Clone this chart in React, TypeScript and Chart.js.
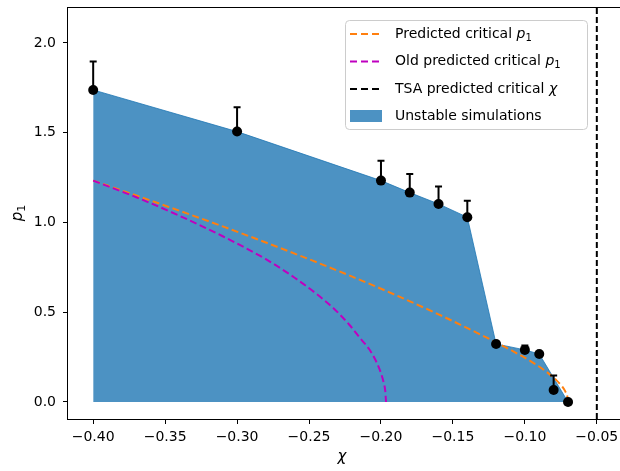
import React, { useEffect, useRef } from 'react';
import { Chart, registerables } from 'chart.js';

Chart.register(...registerables);

// Simulation results (mean critical p1 with upper error)
const simChi = [-0.40, -0.30, -0.20, -0.18, -0.16, -0.14, -0.12, -0.10, -0.09, -0.08, -0.07];
const simP1 = [1.738, 1.506, 1.233, 1.166, 1.103, 1.029, 0.323, 0.290, 0.267, 0.067, 0.0];
const simP1Upper = [1.896, 1.642, 1.344, 1.270, 1.200, 1.121, 0.335, 0.315, 0.285, 0.147, 0.0];

// Unstable region boundary
const fillChi = [-0.40, -0.30, -0.20, -0.18, -0.16, -0.14, -0.12, -0.10, -0.09, -0.07];
const fillP1 = [1.738, 1.506, 1.233, 1.166, 1.103, 1.029, 0.323, 0.290, 0.267, 0.0];

// Predicted critical p1
const predChi = [-0.40, -0.37, -0.34, -0.31, -0.28, -0.25, -0.22, -0.19, -0.16, -0.13, -0.11, -0.095, -0.085, -0.078, -0.074, -0.072, -0.0705, -0.070];
const predP1 = [1.233, 1.150, 1.065, 0.978, 0.888, 0.795, 0.698, 0.596, 0.488, 0.372, 0.290, 0.222, 0.168, 0.120, 0.085, 0.060, 0.030, 0.0];

// Old predicted critical p1
const oldChi = [-0.40, -0.37, -0.34, -0.31, -0.28, -0.26, -0.245, -0.233, -0.222, -0.214, -0.208, -0.203, -0.200, -0.198, -0.197, -0.1965];
const oldP1 = [1.233, 1.14, 1.037, 0.923, 0.795, 0.692, 0.603, 0.522, 0.43, 0.35, 0.292, 0.22, 0.16, 0.104, 0.06, 0.0];

// TSA predicted critical chi
const tsaChi = -0.05;

const xTicks = [-0.40, -0.35, -0.30, -0.25, -0.20, -0.15, -0.10, -0.05];
const yTicks = [0.0, 0.5, 1.0, 1.5, 2.0];
const xLimits = [-0.4175, -0.0325];
const yLimits = [-0.095, 2.2];

const legendLabels = ['Predicted critical ', 'Old predicted critical ', 'TSA predicted critical ', 'Unstable simulations'];

const FONT = '"DejaVu Sans", sans-serif';
const BLUE = 'rgba(31,119,180,0.8)';
const ORANGE = '#ff7f0e';
const MAGENTA = '#bf00bf';

export default function App() {
  const ref = useRef<HTMLCanvasElement | null>(null);

  useEffect(() => {
    const canvas = ref.current;
    if (!canvas) return;

    const overlay = {
      id: 'overlay',
      afterDatasetsDraw(chart: any) {
        const ctx = chart.ctx;
        const xs = chart.scales.x;
        const ys = chart.scales.y;
        ctx.save();
        ctx.strokeStyle = '#000';
        ctx.lineWidth = 2;
        for (let i = 0; i < simChi.length; i++) {
          if (simP1Upper[i] - simP1[i] < 0.02) continue;
          const px = xs.getPixelForValue(simChi[i]);
          const py0 = ys.getPixelForValue(simP1[i]);
          const py1 = ys.getPixelForValue(simP1Upper[i]);
          ctx.beginPath();
          ctx.moveTo(px, py0);
          ctx.lineTo(px, py1);
          ctx.moveTo(px - 3.5, py1);
          ctx.lineTo(px + 3.5, py1);
          ctx.stroke();
        }
        ctx.restore();
      },
      afterDraw(chart: any) {
        const ctx = chart.ctx;
        const area = chart.chartArea;
        ctx.save();
        ctx.strokeStyle = '#000';
        ctx.lineWidth = 1;
        ctx.strokeRect(Math.round(area.left) - 0.5, Math.round(area.top) + 0.5, area.right - area.left, area.bottom - area.top);

        ctx.fillStyle = '#000';
        ctx.font = 'italic 15px ' + FONT;
        ctx.textAlign = 'center';
        ctx.textBaseline = 'middle';
        ctx.fillText('\u03c7', 342, area.bottom + 38);

        ctx.save();
        ctx.translate(18, (area.top + area.bottom) / 2);
        ctx.rotate(-Math.PI / 2);
        ctx.font = 'italic 15px ' + FONT;
        ctx.textAlign = 'left';
        const pw = ctx.measureText('p').width;
        ctx.font = '11px ' + FONT;
        const sw = ctx.measureText('1').width;
        const tot = pw + sw;
        ctx.font = 'italic 15px ' + FONT;
        ctx.fillText('p', -tot / 2, 0);
        ctx.font = '11px ' + FONT;
        ctx.fillText('1', -tot / 2 + pw, 4);
        ctx.restore();

        const bx = 345, by = 20, bw = 242, bh = 109;
        ctx.beginPath();
        (ctx as any).roundRect(bx + 0.5, by + 0.5, bw, bh, 4);
        ctx.fillStyle = 'rgba(255,255,255,0.8)';
        ctx.fill();
        ctx.strokeStyle = '#cccccc';
        ctx.lineWidth = 1;
        ctx.stroke();

        const rows = [34, 61.5, 89, 116];
        const colors = [ORANGE, MAGENTA, '#000'];
        for (let i = 0; i < 3; i++) {
          ctx.beginPath();
          ctx.setLineDash([7, 4]);
          ctx.strokeStyle = colors[i];
          ctx.lineWidth = 2;
          ctx.moveTo(350, rows[i]);
          ctx.lineTo(382, rows[i]);
          ctx.stroke();
        }
        ctx.setLineDash([]);
        ctx.fillStyle = BLUE;
        ctx.fillRect(350, rows[3] - 6, 32, 12);

        ctx.fillStyle = '#000';
        ctx.textAlign = 'left';
        ctx.textBaseline = 'middle';
        for (let i = 0; i < 4; i++) {
          ctx.font = '14px ' + FONT;
          const tx = 395;
          ctx.fillText(legendLabels[i], tx, rows[i]);
          const w = ctx.measureText(legendLabels[i]).width;
          if (i < 2) {
            ctx.font = 'italic 14px ' + FONT;
            ctx.fillText('p', tx + w, rows[i]);
            const pw2 = ctx.measureText('p').width;
            ctx.font = '10px ' + FONT;
            ctx.fillText('1', tx + w + pw2, rows[i] + 4);
          } else if (i === 2) {
            ctx.font = 'italic 14px ' + FONT;
            ctx.fillText('\u03c7', tx + w, rows[i]);
          }
        }
        ctx.restore();
      },
    };

    const chart = new Chart(canvas, {
      type: 'scatter',
      data: {
        datasets: [
          {
            label: 'Unstable simulations',
            data: fillChi.map((x, i) => ({ x, y: fillP1[i] })),
            showLine: true,
            fill: { target: { value: 0 } },
            backgroundColor: BLUE,
            borderColor: BLUE,
            borderWidth: 1,
            pointRadius: 0,
            order: 10,
          } as any,
          {
            label: 'Predicted critical p1',
            data: predChi.map((x, i) => ({ x, y: predP1[i] })),
            showLine: true,
            borderColor: ORANGE,
            borderWidth: 2,
            borderDash: [7, 3.5],
            pointRadius: 0,
            fill: false,
            cubicInterpolationMode: 'monotone',
            order: 5,
          },
          {
            label: 'Old predicted critical p1',
            data: oldChi.map((x, i) => ({ x, y: oldP1[i] })),
            showLine: true,
            borderColor: MAGENTA,
            borderWidth: 2,
            borderDash: [7, 3.5],
            pointRadius: 0,
            fill: false,
            cubicInterpolationMode: 'monotone',
            order: 4,
          },
          {
            label: 'TSA predicted critical chi',
            data: [
              { x: tsaChi, y: yLimits[0] },
              { x: tsaChi, y: yLimits[1] },
            ],
            showLine: true,
            borderColor: '#000',
            borderWidth: 2,
            borderDash: [6, 3],
            pointRadius: 0,
            fill: false,
            order: 3,
          },
          {
            label: 'Simulations',
            data: simChi.map((x, i) => ({ x, y: simP1[i] })),
            showLine: false,
            backgroundColor: '#000',
            borderColor: '#000',
            pointRadius: 5,
            pointBorderWidth: 0,
            order: 0,
          },
        ],
      },
      options: {
        responsive: false,
        animation: false,
        layout: { padding: { left: 0, top: 7, right: 2, bottom: 0 } },
        plugins: {
          legend: { display: false },
          tooltip: { enabled: false },
        },
        scales: {
          x: {
            type: 'linear',
            min: xLimits[0],
            max: xLimits[1],
            afterBuildTicks: (s: any) => {
              s.ticks = xTicks.map((v) => ({ value: v }));
            },
            afterFit: (s: any) => {
              s.height = 52;
              s.paddingLeft = 0;
              s.paddingRight = 0;
            },
            ticks: {
              color: '#000',
              font: { family: FONT, size: 14 },
              padding: 5,
              maxRotation: 0,
              autoSkip: false,
              callback: (v: any) => '\u2212' + Math.abs(Number(v)).toFixed(2),
            },
            grid: {
              display: true,
              drawOnChartArea: false,
              drawTicks: true,
              tickLength: 5,
              color: '#000',
            },
            border: { display: false },
          },
          y: {
            type: 'linear',
            min: yLimits[0],
            max: yLimits[1],
            afterBuildTicks: (s: any) => {
              s.ticks = yTicks.map((v) => ({ value: v }));
            },
            afterFit: (s: any) => {
              s.width = 68;
              s.paddingTop = 0;
              s.paddingBottom = 0;
            },
            ticks: {
              color: '#000',
              font: { family: FONT, size: 14 },
              padding: 7,
              autoSkip: false,
              callback: (v: any) => Number(v).toFixed(1),
            },
            grid: {
              display: true,
              drawOnChartArea: false,
              drawTicks: true,
              tickLength: 5,
              color: '#000',
            },
            border: { display: false },
          },
        },
      },
      plugins: [overlay],
    });

    return () => chart.destroy();
  }, []);

  return (
    <div style={{ position: 'fixed', left: 0, top: 0, width: 620, height: 471, overflow: 'hidden', background: '#fff' }}>
      <canvas ref={ref} width={627} height={471} style={{ display: 'block', width: 627, height: 471 }} />
    </div>
  );
}
